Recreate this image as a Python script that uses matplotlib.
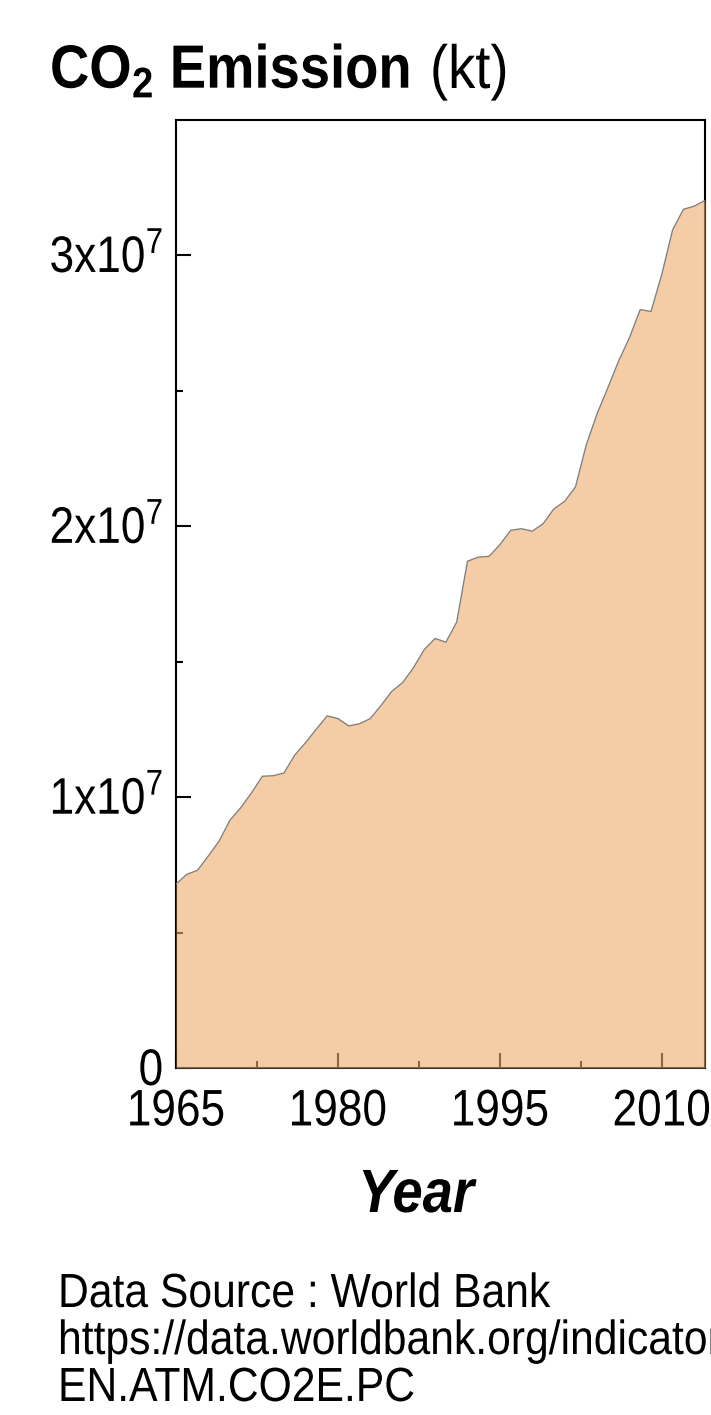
import matplotlib
matplotlib.use("Agg")
import matplotlib.pyplot as plt
from matplotlib.patheffects import AbstractPathEffect
from matplotlib.transforms import Affine2D, ScaledTranslation
from matplotlib.ticker import FixedLocator

# CO2 emission (kt)
years = list(range(1965, 2015))
co2_kt = [
    6.79e6, 7.15e6, 7.30e6, 7.83e6, 8.38e6, 9.15e6, 9.61e6, 10.16e6, 10.77e6, 10.79e6,
    10.89e6, 11.55e6, 12.01e6, 12.51e6, 13.00e6, 12.90e6, 12.63e6, 12.71e6, 12.90e6, 13.39e6,
    13.91e6, 14.23e6, 14.78e6, 15.45e6, 15.86e6, 15.72e6, 16.46e6, 18.71e6, 18.86e6, 18.89e6,
    19.32e6, 19.85e6, 19.91e6, 19.82e6, 20.09e6, 20.64e6, 20.92e6, 21.45e6, 23.00e6, 24.15e6,
    25.11e6, 26.10e6, 26.96e6, 28.00e6, 27.93e6, 29.30e6, 30.94e6, 31.70e6, 31.82e6, 32.03e6,
]

xticks = [1965, 1980, 1995, 2010]
xminor = [1972.5, 1987.5, 2002.5]
yticks = [0, 1e7, 2e7, 3e7]
ylabels = ["0", "1x10$^7$", "2x10$^7$", "3x10$^7$"]
yminor = [5e6, 1.5e7, 2.5e7]

title_main = "CO$_\\mathbf{2}$ Emission"
title_unit = "(kt)"
source_lines = ["Data Source : World Bank",
                "https://data.worldbank.org/indicator/",
                "EN.ATM.CO2E.PC"]

plt.rcParams.update({
    "font.family": ["Liberation Sans", "DejaVu Sans"],
    "mathtext.fontset": "custom",
    "mathtext.rm": "Liberation Sans",
    "mathtext.bf": "Liberation Sans:bold",
    "mathtext.it": "Liberation Sans:italic",
})


# the original text looks a bit narrower than the font, squeeze it sideways
class Squeeze(AbstractPathEffect):
    def __init__(self, sx=0.89, anchor="center"):
        super().__init__()
        self.sx = sx
        self.anchor = anchor

    def draw_path(self, renderer, gc, tpath, affine, rgbFace=None):
        xs = tpath.vertices[:, 0]
        if self.anchor == "left" or len(xs) == 0:
            x0 = 0.0
        elif self.anchor == "right":
            x0 = xs.max()
        else:
            x0 = (xs.min() + xs.max()) / 2
        sq = Affine2D().translate(-x0, 0).scale(self.sx, 1).translate(x0, 0)
        renderer.draw_path(gc, tpath, sq + affine, rgbFace)


W, H = 711, 1415
fig = plt.figure(figsize=(W / 100, H / 100), dpi=100)
ax = fig.add_axes([176 / W, 1 - 1068 / H, (705 - 176) / W, (1068 - 120) / H])

# semi transparent fill on top of the axes, ticks show through it brownish
ax.fill_between(years, co2_kt, 0, color="#eead6b", alpha=0.6, lw=0, zorder=3)
ax.plot(years, co2_kt, color="#808080", lw=1.0, zorder=3.1)

ax.set_xlim(1965, 2014)
ax.set_ylim(0, 3.5e7)

ax.set_xticks(xticks)
ax.set_xticklabels([str(y) for y in xticks])
ax.xaxis.set_minor_locator(FixedLocator(xminor))
ax.set_yticks(yticks)
ax.set_yticklabels(ylabels)
ax.yaxis.set_minor_locator(FixedLocator(yminor))

ax.tick_params(which="both", direction="in", width=1.5, colors="black")
ax.tick_params(which="major", length=10.5, labelsize=37)
ax.tick_params(which="minor", length=5)
ax.tick_params(axis="x", which="major", pad=14)
ax.tick_params(axis="y", which="major", pad=9)

for lab in ax.get_xticklabels():
    lab.set_path_effects([Squeeze(0.86, "center")])
# put the digits (not the superscript) centred on the tick
shift = ScaledTranslation(0, -0.17, fig.dpi_scale_trans)
for lab in ax.get_yticklabels():
    lab.set_path_effects([Squeeze(0.86, "right")])
    lab.set_verticalalignment("baseline")
    lab.set_transform(lab.get_transform() + shift)

for sp in ax.spines.values():
    sp.set_linewidth(1.5)
    sp.set_color("black")

fig.text(50 / W, 1 - 88 / H, title_main, fontsize=44, fontweight="bold",
         ha="left", va="baseline", path_effects=[Squeeze(0.89, "left")])
fig.text(430 / W, 1 - 88 / H, title_unit, fontsize=44,
         ha="left", va="baseline", path_effects=[Squeeze(0.89, "left")])

fig.text(416 / W, 1 - 1212 / H, "Year", fontsize=44, fontweight="bold",
         fontstyle="italic", ha="center", va="baseline",
         path_effects=[Squeeze(0.89, "center")])

for i, line in enumerate(source_lines):
    fig.text(58 / W, 1 - (1307 + 47 * i) / H, line, fontsize=34.5,
             ha="left", va="baseline", path_effects=[Squeeze(0.89, "left")])

fig.savefig("out.png", dpi=100)
